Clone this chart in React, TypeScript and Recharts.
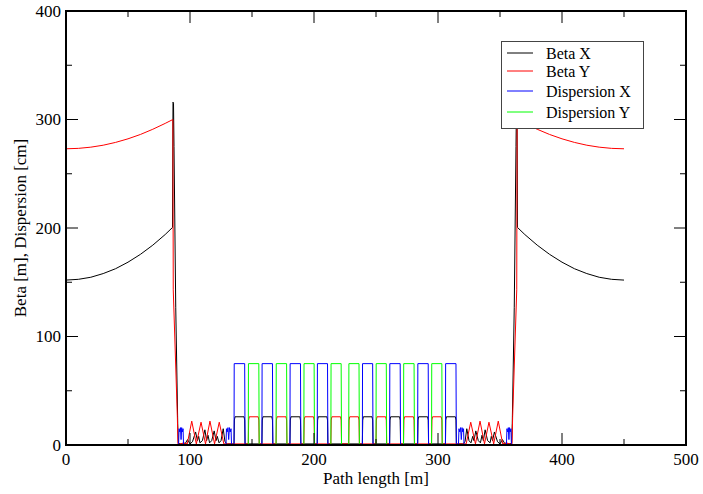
import React from 'react';
import { LineChart, Line, XAxis, YAxis, ReferenceArea } from 'recharts';

const W = 703;
const H = 494;
const PLOT = { left: 66, right: 686, top: 11, bottom: 445 };
const FONT = 'Liberation Serif, Times New Roman, serif';

const xTicks = [0, 50, 100, 150, 200, 250, 300, 350, 400, 450, 500];
const yTicks = [0, 50, 100, 150, 200, 250, 300, 350, 400];

// square cells in the middle of the lattice [start, end] in metres
const blueCells: [number, number][] = [
  [135.5, 144.4], [158.0, 166.8], [180.6, 189.4], [202.6, 211.2],
  [239.0, 247.6], [261.0, 269.8], [283.6, 292.4], [306.0, 314.8],
];
const greenCells: [number, number][] = [
  [147.0, 155.8], [169.4, 178.2], [191.8, 200.4], [213.6, 222.2],
  [228.0, 236.6], [250.0, 258.6], [272.2, 281.0], [294.8, 303.4],
];
const dispCellHeight = 75;
const betaCellHeight = 26;

const betaXLeft: [number, number][] = [
  [0, 152], [10, 152.7], [20, 154.6], [30, 158], [40, 162.5], [50, 168.5], [60, 175.7],
  [70, 184.2], [80, 194], [85.9, 200.5], [86.3, 316], [86.7, 315], [87.1, 275], [88.5, 127],
  [90.1, 20], [90.6, 2], [92, 1], [96, 1], [98, 5], [100, 1], [102, 3], [104.5, 12], [106, 4],
  [107, 8], [108, 2], [110, 4], [112, 14], [113.4, 4], [114.5, 9], [115.8, 2], [117.5, 4],
  [119.5, 13], [121, 4], [122, 8], [123.4, 2], [125, 4], [126.8, 15], [128.2, 3], [130, 1], [134, 1],
];
const betaXRight: [number, number][] = [
  [316, 1], [320, 1], [321.8, 3], [323.2, 15], [325, 4], [326.6, 2], [328, 8], [329, 4],
  [330.5, 13], [332.5, 4], [334.2, 2], [335.5, 9], [336.6, 4], [338, 14], [340, 4], [342, 2],
  [343, 8], [344, 4], [345.5, 12], [348, 3], [350, 1], [352, 5], [354, 1], [358, 1], [359.4, 2],
  [359.9, 20], [361.5, 127], [362.9, 275], [363.3, 315], [363.7, 316], [364.1, 200.5], [370, 194],
  [380, 184.2], [390, 175.7], [400, 168.5], [410, 162.5], [420, 158], [430, 154.6], [440, 152.7], [450, 152],
];
const betaYLeft: [number, number][] = [
  [0, 273], [10, 273.4], [20, 274.5], [30, 276.3], [40, 278.9], [50, 282.2], [60, 286.2],
  [70, 291], [80, 296.4], [86.2, 300], [86.5, 143], [89.8, 26], [90.3, 1], [92, 1], [95, 2],
  [97.8, 1], [101.4, 22], [105.1, 1], [108.9, 21], [112.5, 1], [116.1, 22], [119.8, 1],
  [123.6, 21], [127.3, 1], [134, 1],
];
const betaYRight: [number, number][] = [
  [316, 1], [322.7, 1], [326.4, 21], [330.2, 1], [333.9, 22], [337.5, 1], [341.1, 21],
  [344.9, 1], [348.6, 22], [352.2, 1], [355, 2], [358, 1], [359.7, 1], [360.2, 26],
  [363.5, 143], [363.8, 300], [370, 296.4], [380, 291], [390, 286.2], [400, 282.2],
  [410, 278.9], [420, 276.3], [430, 274.5], [440, 273.4], [450, 273],
];
const dispXLeft: [number, number][] = [
  [0, 0], [90.8, 0], [91.2, 15], [91.8, 12], [92.3, 16], [92.8, 5], [93.3, 16], [93.8, 12],
  [94.4, 15], [94.8, 0], [129, 0], [129.4, 15], [130, 12], [130.6, 16], [131.2, 5], [131.8, 16],
  [132.4, 12], [133.1, 15], [133.5, 0],
];
const dispXRight: [number, number][] = [
  [316.5, 0], [316.9, 15], [317.6, 12], [318.2, 16], [318.8, 5], [319.4, 16], [320, 12],
  [320.6, 15], [321, 0], [355.2, 0], [355.6, 15], [356.2, 12], [356.7, 16], [357.2, 5],
  [357.7, 16], [358.2, 12], [358.8, 15], [359.2, 0], [450, 0],
];

const dispCell = ([a, b]: [number, number], h: number): [number, number][] => [
  [a, 0], [a + 0.15, h], [b - 0.3, h], [b, 0],
];
const betaCell = ([a, b]: [number, number], h: number): [number, number][] => [
  [a, 1], [a + 0.3, h - 3], [a + 0.8, h], [b - 0.8, h], [b - 0.3, h - 3], [b, 1],
];

const pts = (list: [number, number][]) => list.map(([s, v]) => ({ s, v }));

const betaX = pts([...betaXLeft, ...blueCells.flatMap((c) => betaCell(c, betaCellHeight)), ...betaXRight]);
const betaY = pts([...betaYLeft, ...greenCells.flatMap((c) => betaCell(c, betaCellHeight)), ...betaYRight]);
const dispX = pts([...dispXLeft, ...blueCells.flatMap((c) => dispCell(c, dispCellHeight)), ...dispXRight]);
const dispY = pts([[0, 0], ...greenCells.flatMap((c) => dispCell(c, dispCellHeight)), [450, 0]]);

const legendItems = [
  { name: 'Beta X', color: '#000000', y: 12 },
  { name: 'Beta Y', color: '#ff0000', y: 30 },
  { name: 'Dispersion X', color: '#0000ff', y: 50 },
  { name: 'Dispersion Y', color: '#00ff00', y: 71 },
];

const textStyle = { fontFamily: FONT, fontSize: 17, fill: '#000' };

const XTick = (props: any) => {
  const { x, y, payload } = props;
  const major = payload.value % 100 === 0;
  const len = major ? 12 : 6;
  return (
    <g>
      <line x1={x} x2={x} y1={y} y2={y - len} stroke="#000" strokeWidth={1} />
      <line x1={x} x2={x} y1={PLOT.top} y2={PLOT.top + len} stroke="#000" strokeWidth={1} />
      {major && (
        <text x={x} y={y + 20} textAnchor="middle" style={textStyle}>
          {payload.value}
        </text>
      )}
    </g>
  );
};

const YTick = (props: any) => {
  const { x, y, payload } = props;
  const major = payload.value % 100 === 0;
  const len = major ? 12 : 6;
  return (
    <g>
      <line x1={x} x2={x + len} y1={y} y2={y} stroke="#000" strokeWidth={1} />
      <line x1={PLOT.right} x2={PLOT.right - len} y1={y} y2={y} stroke="#000" strokeWidth={1} />
      {major && (
        <text x={x - 5} y={y} dy="0.35em" textAnchor="end" style={textStyle}>
          {payload.value}
        </text>
      )}
    </g>
  );
};

const YLabel = () => (
  <text
    x={20}
    y={228}
    transform="rotate(-90, 20, 228)"
    textAnchor="middle"
    dominantBaseline="central"
    style={textStyle}
  >
    Beta [m], Dispersion [cm]
  </text>
);

export default function App() {
  return (
    <div style={{ position: 'absolute', left: 0, top: 0, width: W, height: H, background: '#fff' }}>
      <LineChart
        width={W}
        height={H}
        margin={{ top: PLOT.top, right: W - PLOT.right, left: 0, bottom: 0 }}
      >
        <XAxis
          dataKey="s"
          type="number"
          domain={[0, 500]}
          ticks={xTicks}
          interval={0}
          height={H - PLOT.bottom}
          tickSize={0}
          tickMargin={0}
          tickLine={false}
          axisLine={{ stroke: '#000', strokeWidth: 2 }}
          tick={<XTick />}
          label={{
            value: 'Path length [m]',
            position: 'insideBottom',
            offset: 10,
            style: textStyle,
          }}
        />
        <YAxis
          type="number"
          domain={[0, 400]}
          ticks={yTicks}
          interval={0}
          width={PLOT.left}
          tickSize={0}
          tickMargin={0}
          tickLine={false}
          axisLine={{ stroke: '#000', strokeWidth: 2 }}
          tick={<YTick />}
          label={<YLabel />}
        />
        <Line data={betaX} dataKey="v" type="linear" stroke="#000000" strokeWidth={1} dot={false} isAnimationActive={false} />
        <Line data={betaY} dataKey="v" type="linear" stroke="#ff0000" strokeWidth={1} dot={false} isAnimationActive={false} />
        <Line data={dispX} dataKey="v" type="linear" stroke="#0000ff" strokeWidth={1} dot={false} isAnimationActive={false} />
        <Line data={dispY} dataKey="v" type="linear" stroke="#00ff00" strokeWidth={1} dot={false} isAnimationActive={false} />
        <ReferenceArea x1={0} x2={500} y1={0} y2={400} fill="none" stroke="#000" strokeWidth={2} />
      </LineChart>
      <svg
        width={143}
        height={88}
        style={{ position: 'absolute', left: 501, top: 41 }}
      >
        <rect x={0.5} y={0.5} width={142} height={87} fill="#fff" stroke="#444" strokeWidth={1} />
        {legendItems.map((it) => (
          <g key={it.name}>
            <line x1={6} x2={32} y1={it.y} y2={it.y} stroke={it.color} strokeWidth={1} />
            <text x={45} y={it.y} dy="0.35em" style={{ ...textStyle, fontSize: 16 }}>
              {it.name}
            </text>
          </g>
        ))}
      </svg>
    </div>
  );
}
